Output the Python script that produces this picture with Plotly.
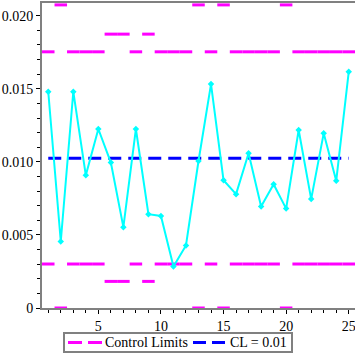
import plotly.graph_objects as go

samples = list(range(1, 26))
proportions = [0.0148, 0.00455, 0.0148, 0.00908, 0.01225, 0.00995, 0.00553, 0.01225,
               0.00642, 0.0063, 0.00284, 0.00428, 0.01006, 0.01532, 0.00874, 0.00779,
               0.01059, 0.00694, 0.00847, 0.0068, 0.01218, 0.00745, 0.01195, 0.0087, 0.01616]
center_line = 0.01025
ucl = [0.01753, 0.02074, 0.01753, 0.01753, 0.01753, 0.01874, 0.01874, 0.01753, 0.01874,
       0.01753, 0.01753, 0.01753, 0.02074, 0.01753, 0.02074, 0.01753, 0.01753, 0.01753,
       0.01753, 0.02074, 0.01753, 0.01753, 0.01753, 0.01753, 0.01753]
lcl = [0.00301, 0.0, 0.00301, 0.00301, 0.00301, 0.00182, 0.00182, 0.00301, 0.00182,
       0.00301, 0.00301, 0.00301, 0.0, 0.00301, 0.0, 0.00301, 0.00301, 0.00301,
       0.00301, 0.0, 0.00301, 0.00301, 0.00301, 0.00301, 0.00301]
y_ticks = [0, 0.005, 0.010, 0.015, 0.020]
y_tick_labels = ["0", "0.005", "0.010", "0.015", "0.020"]
x_ticks = [5, 10, 15, 20, 25]
x_tick_labels = ["5", "10", "15", "20", "25"]
legend_labels = ["Control Limits", "CL = 0.01"]

MAG = "#FF00FF"
BLUE = "#0000FF"
CYAN = "#00FFFF"
GRAY = "#808080"
FONT = "Liberation Serif, DejaVu Serif, Times New Roman, serif"

W, H = 355, 355
ML, MR, MT, MB = 42, 0, 3, 47
PW, PH = W - ML - MR, H - MT - MB


def px(x):
    return (x - ML) / PW


def py(y):
    return (H - MB - y) / PH


seg_x, seg_y = [], []
for s, u, l in zip(samples, ucl, lcl):
    seg_x += [s - 0.5, s + 0.5, None, s - 0.5, s + 0.5, None]
    seg_y += [u, u, None, l, l, None]

fig = go.Figure()
fig.add_trace(go.Scatter(x=seg_x, y=seg_y, mode="lines",
                         line=dict(color=MAG, width=3), name=legend_labels[0],
                         hoverinfo="skip"))
fig.add_trace(go.Scatter(x=[samples[0], samples[-1]], y=[center_line, center_line],
                         mode="lines", line=dict(color=BLUE, width=3, dash="13px,7px"),
                         name=legend_labels[1]))
fig.add_trace(go.Scatter(x=samples, y=proportions, mode="lines+markers",
                         line=dict(color=CYAN, width=2),
                         marker=dict(symbol="diamond", size=5, color=CYAN),
                         cliponaxis=False))

# legend drawn as a framed box below the plot
ly = 342.5
shapes = [
    dict(type="rect", xref="paper", yref="paper", x0=px(64), x1=px(292), y0=py(352), y1=py(333),
         line=dict(color=GRAY, width=2), fillcolor="white", layer="above"),
    dict(type="line", xref="paper", yref="paper", x0=px(68), x1=px(102), y0=py(ly), y1=py(ly),
         line=dict(color=MAG, width=3, dash="14px,6px"), layer="above"),
    dict(type="line", xref="paper", yref="paper", x0=px(193), x1=px(229), y0=py(ly), y1=py(ly),
         line=dict(color=BLUE, width=3, dash="13px,6px"), layer="above"),
]
annotations = [
    dict(text=legend_labels[0], xref="paper", yref="paper", x=px(103), y=py(ly),
         xanchor="left", yanchor="middle", showarrow=False, font=dict(size=14)),
    dict(text=legend_labels[1], xref="paper", yref="paper", x=px(228), y=py(ly),
         xanchor="left", yanchor="middle", showarrow=False, font=dict(size=14)),
]

fig.update_layout(
    width=W, height=H, showlegend=False,
    margin=dict(l=ML, r=MR, t=MT, b=MB, autoexpand=False),
    paper_bgcolor="white", plot_bgcolor="white",
    font=dict(family=FONT, size=14, color="black"),
    shapes=shapes, annotations=annotations,
)
fig.update_xaxes(range=[0.5, 25.5], showgrid=False, zeroline=False, automargin=False,
                 showline=True, linecolor=GRAY, linewidth=2, mirror=True,
                 tickvals=x_ticks, ticktext=x_tick_labels, ticklabeloverflow="allow",
                 ticks="outside", ticklen=4, tickcolor="black", tickwidth=1,
                 minor=dict(tick0=0, dtick=1, ticks="outside", ticklen=3,
                            tickcolor="black", tickwidth=1))
fig.update_yaxes(range=[0, 0.02087], showgrid=False, zeroline=False, automargin=False,
                 showline=True, linecolor=GRAY, linewidth=2, mirror=False,
                 tickvals=y_ticks, ticktext=y_tick_labels, ticklabeloverflow="allow",
                 ticks="outside", ticklen=4, tickcolor="black", tickwidth=1,
                 minor=dict(tick0=0, dtick=0.001, ticks="outside", ticklen=3,
                            tickcolor="black", tickwidth=1))

fig.write_html("out.html", config={"displayModeBar": False},
               post_script="document.body.style.margin='0';document.body.style.padding='0';")
